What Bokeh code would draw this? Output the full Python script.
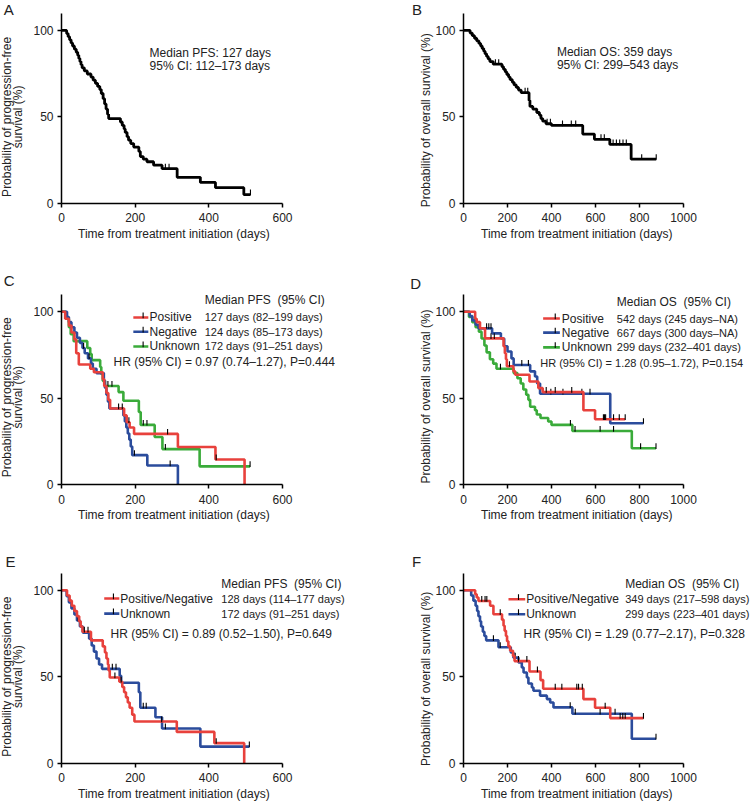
import math
from bokeh.plotting import figure
from bokeh.models import Range1d, FixedTicker, Label
from bokeh.layouts import column, row
from bokeh.embed import file_html
from bokeh.resources import INLINE

# ---------------- data ----------------
x_ticks_pfs = [0, 200, 400, 600]
x_ticks_os = [0, 200, 400, 600, 800, 1000]
y_ticks = [0, 50, 100]

# A: PFS, all patients
a_time = [0, 14, 18, 22, 26, 30, 35, 40, 44, 47, 50, 53, 56, 62, 70, 80, 86, 92, 98, 104,
          108, 113, 117, 121, 125, 128, 160, 165, 170, 173, 178, 182, 188, 196, 210, 214,
          222, 232, 250, 273, 314, 377, 418, 495, 513]
a_surv = [100, 98.2, 96.4, 94.6, 92.8, 91, 89.2, 87.4, 85.6, 83.8, 82, 80.2, 78.4, 76.6, 74.8,
          73, 71.2, 69.4, 67.6, 65.8, 63.5, 60.5, 57.5, 54.5, 51.5, 49, 47, 45, 43, 41, 38.5,
          36.5, 34.5, 32.5, 30, 27, 25.5, 24, 22, 20, 15, 12, 9, 5, 5]
a_cens = [282, 292, 513]

# B: OS, all patients
b_time = [0, 30, 40, 50, 60, 70, 78, 85, 92, 98, 105, 112, 120, 135, 175, 182, 190, 197, 205,
          212, 222, 230, 240, 250, 262, 298, 302, 315, 333, 345, 352, 360, 375, 400, 542, 595,
          665, 762, 876]
b_surv = [100, 98.5, 97, 95.5, 94, 92.5, 91, 89.5, 88, 86.5, 85, 83.5, 82, 80.5, 79, 77.5, 76,
          74.5, 73, 71.5, 70, 68.5, 67, 65.5, 64, 59.5, 56, 54.5, 52.5, 51, 49, 47.5, 46, 45,
          40, 37, 34, 25.5, 25.5]
b_cens = [145, 160, 280, 292, 380, 395, 450, 490, 510, 625, 640, 680, 695, 710, 725, 740, 810, 876]

# C: PFS by status
c_pos_time = [0, 10, 20, 27, 35, 40, 47, 78, 88, 112, 116, 122, 127, 132, 170, 177, 185, 197, 316, 418, 497]
c_pos_surv = [100, 96, 92, 88, 84, 76, 69.5, 67, 65, 61, 57, 53, 49, 44, 40, 36, 33, 29.3, 21.7, 14.5, 0]
c_pos_cens = [155, 165, 183, 288, 420]
c_neg_time = [0, 15, 20, 27, 35, 42, 50, 57, 63, 72, 80, 85, 95, 115, 118, 122, 126, 130, 168,
              172, 176, 180, 184, 188, 192, 233, 316]
c_neg_surv = [100, 97, 94, 91, 88, 85, 82, 79, 76, 73, 70, 67, 64.5, 60, 56, 52, 48, 44, 40,
              36.5, 33, 29.5, 26, 22, 17, 11, 0]
c_neg_cens = [60, 75, 198, 295]
c_unk_time = [0, 12, 20, 25, 33, 70, 78, 82, 105, 108, 112, 118, 155, 168, 210, 215, 253, 274, 375, 512]
c_unk_surv = [100, 96, 91, 87, 83, 79, 75.5, 72, 68, 64, 60, 57, 53.5, 48.5, 42, 34.5, 27.5, 20.5, 10.5, 10.5]
c_unk_cens = [126, 137, 222, 232, 282, 512]

# D: OS by status
d_pos_time = [0, 53, 60, 75, 98, 182, 188, 193, 197, 227, 235, 300, 340, 360, 545, 598, 735]
d_pos_surv = [100, 96, 94, 90.5, 84.6, 80, 76, 72.5, 68.5, 65.5, 63.5, 59.6, 55.8, 53.5, 43, 37.8, 37.8]
d_pos_cens = [125, 140, 209, 376, 417, 492, 636, 641, 646, 682, 708, 735]
d_neg_time = [0, 28, 40, 55, 68, 130, 170, 185, 200, 218, 228, 303, 325, 335, 348, 667, 818]
d_neg_surv = [100, 97.5, 95, 92.5, 90.4, 87.5, 84.5, 80, 77, 73, 69.2, 65.5, 62.5, 58.5, 52.5, 35.5, 35.5]
d_neg_cens = [105, 115, 125, 265, 295, 397, 452, 538, 575, 818]
d_unk_time = [0, 25, 40, 55, 70, 82, 95, 105, 120, 135, 150, 228, 245, 260, 272, 285, 295, 303,
              325, 333, 350, 385, 400, 495, 765, 875]
d_unk_surv = [100, 97, 94, 91, 88.5, 84.5, 80.5, 76.5, 72.5, 70, 67, 64.5, 61.5, 58.5, 55, 52,
              49, 45, 43, 40.5, 38.5, 36.5, 34.5, 31, 21, 21]
d_unk_cens = [168, 486, 507, 621, 682, 805, 875]

# E: PFS, positive/negative vs unknown
e_pn_time = [0, 15, 22, 28, 35, 42, 48, 52, 57, 80, 112, 118, 122, 126, 128, 131, 157, 165,
             170, 175, 180, 185, 192, 198, 313, 415, 496]
e_pn_surv = [100, 97, 94, 91, 88, 85, 82, 79, 76, 71, 67.5, 64, 60.5, 57, 53.5, 49.5, 47, 44,
             41, 38, 35, 32, 28, 24, 18, 11.5, 0]
e_pn_cens = [62, 72, 145, 162, 272, 420]
e_unk_time = [0, 14, 20, 27, 35, 42, 50, 58, 75, 82, 88, 95, 102, 110, 158, 162, 210, 214, 255, 273, 377, 510]
e_unk_surv = [100, 96.5, 93, 89.5, 86, 82.5, 79, 75.5, 72, 68, 64.5, 60.5, 57, 54.5, 50.5, 46.5,
              41, 32, 26.5, 20, 9.5, 9.5]
e_unk_cens = [45, 138, 148, 222, 230, 282, 510]

# F: OS, positive/negative vs unknown
f_pn_time = [0, 53, 60, 68, 121, 136, 175, 182, 187, 193, 198, 204, 212, 225, 232, 300, 350,
             362, 545, 598, 667, 818]
f_pn_surv = [100, 97.7, 95.8, 93.8, 91, 86.1, 83, 79.5, 76.5, 73.5, 70.5, 67.5, 65, 62, 59, 53,
             48, 43, 37, 32, 26, 26]
f_pn_cens = [83, 98, 106, 167, 250, 288, 336, 417, 447, 515, 523, 540, 644, 712, 724, 735, 818]
f_unk_time = [0, 35, 45, 55, 62, 68, 75, 80, 88, 95, 103, 159, 215, 227, 250, 265, 273, 288,
              295, 311, 318, 348, 379, 394, 409, 495, 765, 875]
f_unk_surv = [100, 97, 94, 91, 88, 85, 82, 79, 76, 73.5, 71, 67, 64, 61, 58.2, 55.3, 52.4, 49.5,
              46, 43.7, 41.8, 39, 37, 35, 32.2, 28.5, 14, 14]
f_unk_cens = [136, 167, 235, 485, 508, 621, 689, 875]

# texts
x_title = "Time from treatment initiation (days)"
y_title_pfs = ["Probability of progression-free", "survival (%)"]
y_title_os = ["Probability of overall survival (%)"]
a_note = ["Median PFS: 127 days", "95% CI: 112\u2013173 days"]
b_note = ["Median OS: 359 days", "95% CI: 299\u2013543 days"]
hdr_pfs = "Median PFS\u00a0 (95% CI)"
hdr_os = "Median OS\u00a0 (95% CI)"
grp3 = ["Positive", "Negative", "Unknown"]
grp2 = ["Positive/Negative", "Unknown"]
c_vals = ["127 days (82\u2013199 days)", "124 days (85\u2013173 days)", "172 days (91\u2013251 days)"]
d_vals = ["542 days (245 days\u2013NA)", "667 days (300 days\u2013NA)", "299 days (232\u2013401 days)"]
e_vals = ["128 days (114\u2013177 days)", "172 days (91\u2013251 days)"]
f_vals = ["349 days (217\u2013598 days)", "299 days (223\u2013401 days)"]
c_hr = "HR (95% CI) = 0.97 (0.74\u20131.27), P=0.444"
d_hr = "HR (95% CI) = 1.28 (0.95\u20131.72), P=0.154"
e_hr = "HR (95% CI) = 0.89 (0.52\u20131.50), P=0.649"
f_hr = "HR (95% CI) = 1.29 (0.77\u20132.17), P=0.328"

# ---------------- style ----------------
FONT = "Liberation Sans"
FS = "12px"
FS_SMALL = "11px"
TXT = "#222222"
RED = "#e8413c"
BLUE = "#2b4c9c"
GREEN = "#3aab3a"
KY = 190 / 110.0


def surv_at(ts, ss, tc):
    v = ss[0]
    for t, s in zip(ts, ss):
        if t <= tc:
            v = s
        else:
            break
    return v


def make_panel(W, H, ox, oy, xmax, axis_px, xticks):
    kx = axis_px / xmax
    p = figure(width=W, height=H,
               x_range=Range1d(-ox / kx, (W - ox) / kx),
               y_range=Range1d(-(H - oy) / KY, oy / KY),
               output_backend="svg", toolbar_location=None, tools="",
               min_border=0, outline_line_color=None,
               background_fill_color="white", border_fill_color="white")
    p.xgrid.visible = False
    p.ygrid.visible = False
    for ax in (p.xaxis[0], p.yaxis[0]):
        ax.fixed_location = 0
        ax.axis_line_color = "black"
        ax.axis_line_width = 1.5
        ax.major_tick_line_color = "black"
        ax.major_tick_line_width = 1.5
        ax.major_tick_in = 0
        ax.major_tick_out = 4
        ax.minor_tick_in = 0
        ax.minor_tick_out = 0
        ax.major_label_text_font = FONT
        ax.major_label_text_font_size = FS
        ax.major_label_text_color = TXT
    p.xaxis[0].bounds = (0, xmax)
    p.yaxis[0].bounds = (0, 110)
    p.xaxis[0].ticker = FixedTicker(ticks=xticks)
    p.yaxis[0].ticker = FixedTicker(ticks=y_ticks)
    p.xaxis[0].major_label_standoff = 6
    p.yaxis[0].major_label_standoff = 4
    return p


def text(p, x, y, s, size=FS, align="left", angle=0.0):
    p.add_layout(Label(x=x, y=y, text=s, text_font=FONT, text_font_size=size,
                       text_color=TXT, text_align=align, text_baseline="middle",
                       angle=angle))


def km(p, t, s, cens, color, width=2.6):
    p.step(x=t, y=s, mode="after", line_color=color, line_width=width)
    ys = [surv_at(t, s, c) for c in cens]
    p.segment(x0=cens, y0=[v - 0.4 for v in ys], x1=cens, y1=[v + 2.9 for v in ys],
              line_color="black", line_width=1.1)


def decorate(p, letter, lx, ly, ylines, yxs, yy, xmid):
    text(p, lx, ly, letter, size="15px")
    for x, line in zip(yxs, ylines):
        text(p, x, yy, line, align="center", angle=math.pi / 2)
    text(p, xmid, -17.7, x_title, align="center")


def legend(p, header, hx, hy, names, vals, colors, ys, lx0, lx1, ltick, nx, vx, hr, hrx, hry,
           vsize=FS_SMALL, hrsize=FS):
    text(p, hx, hy, header)
    for name, val, col, y in zip(names, vals, colors, ys):
        p.segment(x0=[lx0], y0=[y], x1=[lx1], y1=[y], line_color=col, line_width=2.6)
        p.segment(x0=[ltick], y0=[y - 0.4], x1=[ltick], y1=[y + 2.9], line_color="black", line_width=1.1)
        text(p, nx, y, name)
        text(p, vx, y, val, size=vsize)
    text(p, hrx, hry, hr, size=hrsize)


# ---------------- panels ----------------
LW, RW = 380, 375
LOX, ROX = 61, 83
H1, H2, H3 = 265, 265, 272
OY1, OY2, OY3 = 202.7, 219, 232.5

pa = make_panel(LW, H1, LOX, OY1, 600, 221, x_ticks_pfs)
km(pa, a_time, a_surv, a_cens, "black", 2.8)
decorate(pa, "A", -157, 112.4, y_title_pfs, [-148, -118], 50, 305)
text(pa, 239, 87.1, a_note[0])
text(pa, 239, 79.6, a_note[1])

pb = make_panel(RW, H1, ROX, OY1, 1000, 220, x_ticks_os)
km(pb, b_time, b_surv, b_cens, "black", 2.8)
decorate(pb, "B", -234, 112.4, y_title_os, [-172.7], 48, 515)
text(pb, 424.5, 87.8, b_note[0])
text(pb, 424.5, 80.3, b_note[1])

pc = make_panel(LW, H2, LOX, OY2, 600, 221, x_ticks_pfs)
km(pc, c_unk_time, c_unk_surv, c_unk_cens, GREEN)
km(pc, c_neg_time, c_neg_surv, c_neg_cens, BLUE)
km(pc, c_pos_time, c_pos_surv, c_pos_cens, RED)
decorate(pc, "C", -157, 117.9, y_title_pfs, [-148, -118], 50.5, 305)
legend(pc, hdr_pfs, 388.8, 106.8, grp3, c_vals, [RED, BLUE, GREEN], [96.7, 88.4, 79.9],
       195, 235.7, 221.6, 239, 388.8, c_hr, 141.4, 71.1)

pd = make_panel(RW, H2, ROX, OY2, 1000, 220, x_ticks_os)
km(pd, d_unk_time, d_unk_surv, d_unk_cens, GREEN)
km(pd, d_neg_time, d_neg_surv, d_neg_cens, BLUE)
km(pd, d_pos_time, d_pos_surv, d_pos_cens, RED)
decorate(pd, "D", -242, 116.3, y_title_os, [-172.7], 51, 515)
legend(pd, hdr_os, 697, 105.8, grp3, d_vals, [RED, BLUE, GREEN], [96.1, 87.9, 79.4],
       362, 438, 417, 447, 697, d_hr, 348.6, 70.5, hrsize=FS_SMALL)

pe = make_panel(LW, H3, LOX, OY3, 600, 221, x_ticks_pfs)
km(pe, e_unk_time, e_unk_surv, e_unk_cens, BLUE)
km(pe, e_pn_time, e_pn_surv, e_pn_cens, RED)
decorate(pe, "E", -152, 116.4, y_title_pfs, [-148, -118], 50, 305)
legend(pe, hdr_pfs, 434, 103.9, grp2, e_vals, [RED, BLUE], [95.2, 86.5],
       116, 157, 141, 159.5, 434, e_hr, 133, 74.9)

pf = make_panel(RW, H3, ROX, OY3, 1000, 220, x_ticks_os)
km(pf, f_unk_time, f_unk_surv, f_unk_cens, BLUE)
km(pf, f_pn_time, f_pn_surv, f_pn_cens, RED)
decorate(pf, "F", -234, 116.9, y_title_os, [-172.7], 48.7, 515)
legend(pf, hdr_os, 735, 103.5, grp2, f_vals, [RED, BLUE], [94.8, 86.1],
       204.5, 280.5, 250, 285, 735, f_hr, 272.7, 74.6)

layout = column(row(pa, pb), row(pc, pd), row(pe, pf))

with open("out.html", "w") as fh:
    fh.write(file_html(layout, INLINE))
